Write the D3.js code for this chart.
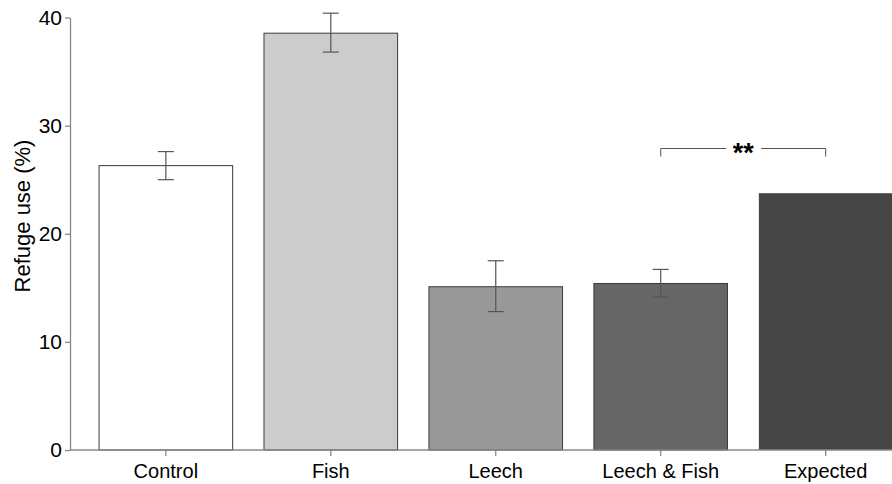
<!DOCTYPE html>
<html>
<head>
<script src="https://d3js.org/d3.v7.min.js"></script>
<style>
body { margin: 0; background: #fff; }
text { font-family: Helvetica, Arial, "Liberation Sans", sans-serif; fill: #000; }
</style>
</head>
<body>
<svg id="chart" width="892" height="484"></svg>
<script>
const categories = ["Control", "Fish", "Leech", "Leech & Fish", "Expected"];
const means = [26.3, 38.55, 15.1, 15.4, 23.75];
const errUpper = [27.6, 40.4, 17.5, 16.7, null];
const errLower = [25.0, 36.8, 12.8, 14.15, null];
const fills = ["#ffffff", "#cccccc", "#999999", "#666666", "#454545"];
const yTicks = [0, 10, 20, 30, 40];

const svg = d3.select("#chart");

const x = d3.scaleBand()
    .domain(categories)
    .range([70, 921.5])
    .paddingInner(0.19)
    .paddingOuter(0.176);

const y = d3.scaleLinear()
    .domain([0, 40])
    .range([450, 17.5]);

// bars
svg.append("g")
   .selectAll("rect")
   .data(categories)
   .join("rect")
   .attr("x", d => x(d))
   .attr("y", (d, i) => y(means[i]))
   .attr("width", x.bandwidth())
   .attr("height", (d, i) => y(0) - y(means[i]))
   .attr("fill", (d, i) => fills[i])
   .attr("stroke", (d, i) => i == 4 ? "none" : "#3a3a3a")
   .attr("stroke-width", 1);

// error bars
let errs = svg.append("g")
              .selectAll("g")
              .data(categories.filter((d, i) => errUpper[i] != null))
              .join("g")
              .attr("stroke", "#555")
              .attr("stroke-width", 1.2);
errs.append("line")
    .attr("x1", d => x(d) + x.bandwidth() / 2)
    .attr("x2", d => x(d) + x.bandwidth() / 2)
    .attr("y1", d => y(errUpper[categories.indexOf(d)]))
    .attr("y2", d => y(errLower[categories.indexOf(d)]));
errs.append("line")
    .attr("x1", d => x(d) + x.bandwidth() / 2 - 8)
    .attr("x2", d => x(d) + x.bandwidth() / 2 + 8)
    .attr("y1", d => y(errUpper[categories.indexOf(d)]))
    .attr("y2", d => y(errUpper[categories.indexOf(d)]));
errs.append("line")
    .attr("x1", d => x(d) + x.bandwidth() / 2 - 8)
    .attr("x2", d => x(d) + x.bandwidth() / 2 + 8)
    .attr("y1", d => y(errLower[categories.indexOf(d)]))
    .attr("y2", d => y(errLower[categories.indexOf(d)]));

// axes
let yAxis = svg.append("g")
               .attr("transform", "translate(70,0)")
               .call(d3.axisLeft(y).tickValues(yTicks).tickSize(5).tickPadding(3).tickSizeOuter(0));
yAxis.select(".domain").attr("stroke", "#888").attr("stroke-width", 1.3);
yAxis.selectAll(".tick line").attr("stroke", "#888").attr("stroke-width", 1.3);
yAxis.selectAll("text").style("font-size", "21px").attr("fill", "#000");

let xAxis = svg.append("g")
               .attr("transform", "translate(0,450)")
               .call(d3.axisBottom(x).tickSize(6).tickPadding(8).tickSizeOuter(0));
xAxis.select(".domain").attr("d", "M70,0H892").attr("stroke", "#888").attr("stroke-width", 1.3);
xAxis.selectAll(".tick line").attr("stroke", "#888").attr("stroke-width", 1.3);
xAxis.selectAll("text").style("font-size", "20px").attr("fill", "#000");

svg.append("text")
   .attr("transform", "translate(30,216) rotate(-90)")
   .attr("text-anchor", "middle")
   .style("font-size", "22px")
   .text("Refuge use (%)");

// significance bracket
let c1 = x("Leech & Fish") + x.bandwidth() / 2;
let c2 = x("Expected") + x.bandwidth() / 2;
let by = 148.5;
let mid = (c1 + c2) / 2;
svg.append("path")
   .attr("d", "M" + c1 + "," + (by + 8) + "V" + by + "H" + (mid - 17))
   .attr("fill", "none").attr("stroke", "#555").attr("stroke-width", 1);
svg.append("path")
   .attr("d", "M" + (mid + 18) + "," + by + "H" + c2 + "V" + (by + 8))
   .attr("fill", "none").attr("stroke", "#555").attr("stroke-width", 1);
svg.append("text")
   .attr("x", mid)
   .attr("y", by + 13)
   .attr("text-anchor", "middle")
   .style("font-size", "27px")
   .style("font-weight", "bold")
   .text("**");
</script>
</body>
</html>
